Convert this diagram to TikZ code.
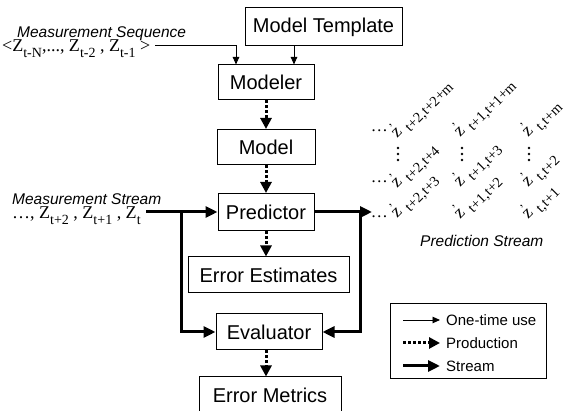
\documentclass[tikz,border=0pt]{standalone}
\usepackage{fontspec}
\setmainfont{Liberation Sans}
\newfontfamily\tms{Liberation Serif}
\usetikzlibrary{arrows.meta}
\newcommand\lblfont{\fontsize{15.5}{18}\selectfont\itshape}
\newcommand\sbx[1]{\raisebox{-0.3em}{\fontsize{14}{14}\selectfont #1}}
\newcommand\sbz[1]{\raisebox{-0.25em}{\fontsize{14.5}{14.5}\selectfont #1}}
\newcommand\zpr[1]{{\tms\fontsize{18}{18}\selectfont z\kern-0.28em\raisebox{0.42em}{\fontsize{12}{12}\selectfont\textquoteright}\kern0.4em\sbz{#1}}}
\begin{document}
\begin{tikzpicture}[x=1pt,y=1pt,
  box/.style={draw,line width=1pt,inner sep=0pt,font=\fontsize{20}{24}\selectfont},
  onetime/.style={line width=0.9pt,-{Triangle[length=7.5pt,width=6.5pt]}},
  prod/.style={line width=3pt,dash pattern=on 2.6pt off 2.4pt,-{Triangle[length=11pt,width=11pt]}},
  stream/.style={line width=3pt,-{Triangle[length=12pt,width=11pt]}},
  lbl/.style={inner sep=0pt,font=\lblfont},
  ser/.style={inner sep=0pt,font=\tms\fontsize{18}{20}\selectfont},
  zp/.style={inner sep=0pt,rotate=45,anchor=base west},
  dd/.style={inner sep=0pt,font=\tms\fontsize{17}{17}\selectfont,anchor=base east}]
\useasboundingbox (0,0) rectangle (566,411);
% boxes
\node[box,minimum width=157pt,minimum height=38pt] (mt) at (323.5,384) {Model Template};
\node[box,minimum width=96pt,minimum height=35pt] (modeler) at (266,328.5) {Modeler};
\node[box,minimum width=98pt,minimum height=35pt] (model) at (266,264) {Model};
\node[box,minimum width=96pt,minimum height=37pt] (predictor) at (266,199) {Predictor};
\node[box,minimum width=161pt,minimum height=36pt] (errest) at (268.5,136) {Error Estimates};
\node[box,minimum width=106pt,minimum height=36pt] (evaluator) at (269,79) {Evaluator};
\node[box,minimum width=142pt,minimum height=36pt] (errmet) at (270,16) {Error Metrics};
% measurement sequence
\node[lbl,anchor=base west] (mseq) at (17,373) {Measurement Sequence};
\node[ser,anchor=base west] (zseq) at (2,359) {<Z\sbx{t-N},..., Z\sbx{t-2} , Z\sbx{t-1} >};
\coordinate (seqs) at (155,366);
\draw[onetime] (seqs) -| ([xshift=-30pt]modeler.north);
\draw[onetime] ([xshift=28pt]modeler.north |- mt.south) -- ([xshift=28pt]modeler.north);
% production
\draw[prod] (modeler.south) -- (model.north);
\draw[prod] (model.south) -- (predictor.north);
\draw[prod] (predictor.south) -- ([xshift=-2.5pt]errest.north);
\draw[prod] ([xshift=-3pt]evaluator.south) -- ([xshift=-4pt]errmet.north);
% measurement stream
\node[lbl,anchor=base west] (mstr) at (12,206) {Measurement Stream};
\node[ser,anchor=base west] (zstr) at (12,192) {\dots, Z\sbx{t+2} , Z\sbx{t+1} , Z\sbx{t}};
\coordinate (msin) at (146,199);
\coordinate (j1) at (181,199);
\draw[stream] (msin) -- (predictor.west);
\draw[stream] (j1) |- (evaluator.west);
\coordinate (pout) at (372,199);
\coordinate (j2) at (360,199);
\draw[stream] (predictor.east) -- (pout);
\draw[stream] (j2) |- (evaluator.east);
% prediction stream
\node[dd] (d1) at (388,279) {\dots};
\node[dd] (d2) at (388,228) {\dots};
\node[dd] (d3) at (388,193) {\dots};
\node[zp] (z11) at (397,272) {\zpr{t+2,t+2+m}};
\node[zp] (z12) at (397,222) {\zpr{t+2,t+4}};
\node[zp] (z13) at (397,192) {\zpr{t+2,t+3}};
\node[zp] (z21) at (460,273) {\zpr{t+1,t+1+m}};
\node[zp] (z22) at (460,223) {\zpr{t+1,t+3}};
\node[zp] (z23) at (460,191) {\zpr{t+1,t+2}};
\node[zp] (z31) at (528,273) {\zpr{t,t+m}};
\node[zp] (z32) at (528,223) {\zpr{t,t+2}};
\node[zp] (z33) at (528,191) {\zpr{t,t+1}};
\foreach \x in {398,462,529}{
  \foreach \y in {263,257,251}{
    \fill (\x,\y) circle (1.3pt);
  }
}
\node[lbl,anchor=base west] (pstr) at (420,164) {Prediction Stream};
% legend
\node[draw,line width=0.9pt,minimum width=156pt,minimum height=75pt,inner sep=0pt] (leg) at (468,70.5) {};
\coordinate (l1a) at (403,91); \coordinate (l1b) at (440,91);
\coordinate (l2a) at (403,68); \coordinate (l2b) at (440,68);
\coordinate (l3a) at (403,45); \coordinate (l3b) at (440,45);
\draw[onetime] (l1a) -- (l1b);
\draw[prod] (l2a) -- (l2b);
\draw[stream] (l3a) -- (l3b);
\node[inner sep=0pt,anchor=west,font=\fontsize{15}{18}\selectfont] (t1) at (446,91) {One-time use};
\node[inner sep=0pt,anchor=west,font=\fontsize{15}{18}\selectfont] (t2) at (446,68) {Production};
\node[inner sep=0pt,anchor=west,font=\fontsize{15}{18}\selectfont] (t3) at (446,45) {Stream};
\end{tikzpicture}
\end{document}
